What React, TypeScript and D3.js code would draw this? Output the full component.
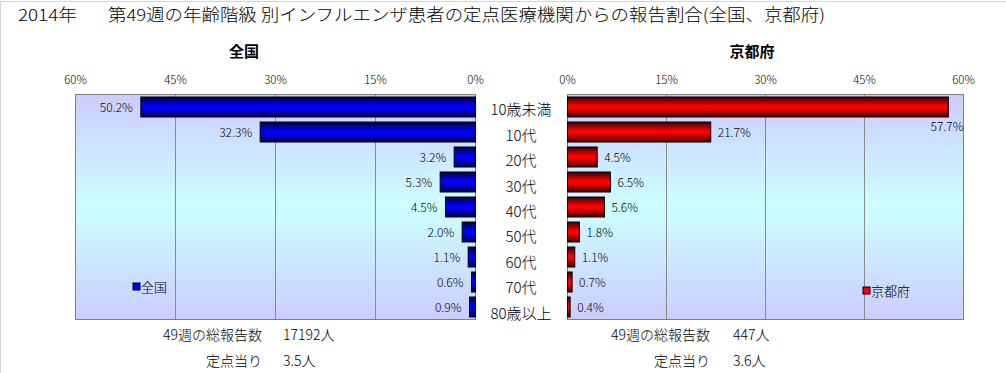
import React from "react";
import * as d3 from "d3";

const categories = ["10歳未満", "10代", "20代", "30代", "40代", "50代", "60代", "70代", "80歳以上"];
const zenkoku = [50.2, 32.3, 3.2, 5.3, 4.5, 2.0, 1.1, 0.6, 0.9];
const kyoto = [57.7, 21.7, 4.5, 6.5, 5.6, 1.8, 1.1, 0.7, 0.4];
const ticks = [0, 15, 30, 45, 60];
const titleYear = "2014年";
const titleMain = "第49週の年齢階級 別インフルエンザ患者の定点医療機関からの報告割合(全国、京都府)";
const leftName = "全国";
const rightName = "京都府";
const leftFooter = [["49週の総報告数", "17192人"], ["定点当り", "3.5人"]];
const rightFooter = [["49週の総報告数", "447人"], ["定点当り", "3.6人"]];

const W = 1006, H = 373;
const FONT = "'Noto Sans CJK JP', 'Noto Sans', sans-serif";

export default function App() {
  const top = 94.5, bottom = 319.5;
  const xl = d3.scaleLinear().domain([0, 60]).range([475.5, 75.5]);
  const xr = d3.scaleLinear().domain([0, 60]).range([567.5, 963.5]);
  const y = d3.scaleBand<string>().domain(categories).range([top, bottom]).paddingInner(0.2).paddingOuter(0.1);
  const yLab = d3.scaleBand<string>().domain(categories).range([97, 326]);
  const fmt = (v: number) => v.toFixed(1) + "%";

  const plotBg = (x0: number, x1: number) => (
    <rect x={x0} y={top} width={x1 - x0} height={bottom - top} fill="url(#bgGrad)" stroke="#808080" strokeWidth={1} />
  );

  return (
    <svg width={W} height={H} style={{ position: "absolute", left: 0, top: 0, background: "#fff" }} fontFamily={FONT} fontWeight={300}>
      <defs>
        <linearGradient id="bgGrad" x1="0" y1="0" x2="0" y2="1">
          <stop offset="0" stopColor="#ccccff" />
          <stop offset="0.5" stopColor="#ccffff" />
          <stop offset="1" stopColor="#ccccff" />
        </linearGradient>
        <linearGradient id="blueGrad" x1="0" y1="0" x2="0" y2="1">
          <stop offset="0" stopColor="#000040" />
          <stop offset="0.45" stopColor="#0000ff" />
          <stop offset="0.55" stopColor="#0000ff" />
          <stop offset="1" stopColor="#000040" />
        </linearGradient>
        <linearGradient id="redGrad" x1="0" y1="0" x2="0" y2="1">
          <stop offset="0" stopColor="#400000" />
          <stop offset="0.45" stopColor="#ff0000" />
          <stop offset="0.55" stopColor="#ff0000" />
          <stop offset="1" stopColor="#400000" />
        </linearGradient>
      </defs>
      <rect x={0} y={0} width={W} height={H} fill="#fff" />
      <line x1={0} y1={1.5} x2={W} y2={1.5} stroke="#d4d4d4" />
      <line x1={0.5} y1={1} x2={0.5} y2={H} stroke="#d4d4d4" />

      <text x={18} y={21} fontSize={16.5} textLength={59} lengthAdjust="spacingAndGlyphs">{titleYear}</text>
      <text x={108} y={21} fontSize={16.5} textLength={717} lengthAdjust="spacingAndGlyphs">{titleMain}</text>

      <text x={244} y={57} fontSize={15} fontWeight="bold" textAnchor="middle">{leftName}</text>
      <text x={752} y={57} fontSize={15} fontWeight="bold" textAnchor="middle">{rightName}</text>

      {plotBg(75.5, 475.5)}
      {plotBg(567.5, 963.5)}

      {ticks.map((t) => (
        <g key={"t" + t}>
          <line x1={xl(t)} x2={xl(t)} y1={top} y2={bottom} stroke="#8a8a8a" />
          <line x1={xr(t)} x2={xr(t)} y1={top} y2={bottom} stroke="#8a8a8a" />
          <text x={xl(t)} y={84} fontSize={11.5} textAnchor="middle">{t + "%"}</text>
          <text x={xr(t)} y={84} fontSize={11.5} textAnchor="middle">{t + "%"}</text>
        </g>
      ))}
      <rect x={75.5} y={top} width={400} height={bottom - top} fill="none" stroke="#808080" />
      <rect x={567.5} y={top} width={396} height={bottom - top} fill="none" stroke="#808080" />

      {categories.map((c, i) => {
        const by = y(c)!;
        const bh = y.bandwidth();
        const cy = by + bh / 2;
        const lv = zenkoku[i];
        const rv = kyoto[i];
        const rEnd = xr(rv);
        const overflow = rEnd + 40 > xr(60);
        return (
          <g key={c}>
            <rect x={xl(lv)} y={by} width={xl(0) - xl(lv)} height={bh} fill="url(#blueGrad)" stroke="#000" strokeWidth={1} />
            <text x={xl(lv) - 8} y={cy + 4.5} fontSize={12} textAnchor="end">{fmt(lv)}</text>
            <rect x={xr(0)} y={by} width={rEnd - xr(0)} height={bh} fill="url(#redGrad)" stroke="#000" strokeWidth={1} />
            {overflow ? (
              <text x={xr(60)} y={cy + 23.5} fontSize={12} textAnchor="end">{fmt(rv)}</text>
            ) : (
              <text x={rEnd + 7} y={cy + 4.5} fontSize={12}>{fmt(rv)}</text>
            )}
            <text x={521} y={yLab(c)! + yLab.bandwidth() / 2 + 5.5} fontSize={15} textAnchor="middle">{c}</text>
          </g>
        );
      })}

      <rect x={133} y={283} width={7} height={7} fill="#0000ff" stroke="#000" />
      <text x={141} y={291.5} fontSize={13}>{leftName}</text>
      <rect x={863} y={287} width={7} height={7} fill="#ff0000" stroke="#000" />
      <text x={871} y={295.5} fontSize={13}>{rightName}</text>

      {leftFooter.map((f, i) => (
        <g key={"lf" + i}>
          <text x={262} y={340 + i * 26} fontSize={14} textAnchor="end">{f[0]}</text>
          <text x={283} y={340 + i * 26} fontSize={14}>{f[1]}</text>
        </g>
      ))}
      {rightFooter.map((f, i) => (
        <g key={"rf" + i}>
          <text x={710} y={340 + i * 26} fontSize={14} textAnchor="end">{f[0]}</text>
          <text x={733} y={340 + i * 26} fontSize={14}>{f[1]}</text>
        </g>
      ))}
    </svg>
  );
}
